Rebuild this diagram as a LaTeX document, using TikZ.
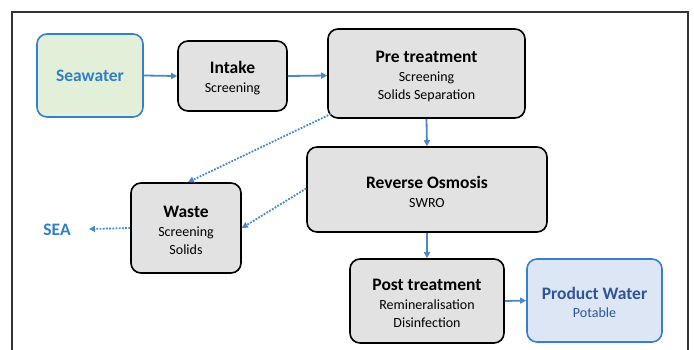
\documentclass[tikz,border=0pt]{standalone}
\usepackage{fontspec}
\setmainfont{Carlito}
\usetikzlibrary{arrows.meta}
\definecolor{boxgray}{HTML}{E2E2E2}
\definecolor{seagreen}{HTML}{E2EFD9}
\definecolor{prodblue}{HTML}{DCE6F4}
\definecolor{lineblue}{HTML}{4A88CC}
\definecolor{edgeblue}{HTML}{3480CC}
\definecolor{txtblue}{HTML}{2F7EC6}
\definecolor{darkblue}{HTML}{2F5597}
\newcommand{\ttlf}{\fontsize{17.5}{19}\selectfont\bfseries\rule{0pt}{17pt}}
\newcommand{\subf}{\fontsize{14}{18}\selectfont}
\tikzset{
  box/.style={draw=black, line width=1.6pt, fill=boxgray, rounded corners=10pt, align=center, inner sep=0pt, font=\subf},
  seabox/.style={box, draw=edgeblue, fill=seagreen},
  prodbox/.style={box, draw=edgeblue, fill=prodblue},
  flow/.style={draw=lineblue, line width=1.8pt, -{Triangle[length=6pt,width=6pt]}},
  waste/.style={draw=lineblue, line width=1.8pt, dash pattern=on 1.8pt off 1.4pt, -{Triangle[length=6pt,width=6pt]}},
}
\begin{document}
\begin{tikzpicture}[x=1pt,y=-1pt]
\useasboundingbox (0,0) rectangle (694,349);
\fill[white] (0,0) rectangle (694,349);
\begin{scope}
\clip (0,0) rectangle (694,349);
\draw[line width=1.5pt, draw=black!80] (12,12) rectangle (688,370);
\end{scope}
% nodes
\node[seabox, minimum width=106pt, minimum height=83pt, text=txtblue] (sw) at (90,75.5) {{\fontsize{17.5}{19}\selectfont\bfseries Seawater}};
\node[box, minimum width=109pt, minimum height=70pt] (in) at (232.5,76) {{\ttlf Intake}\\[1pt]Screening};
\node[box, minimum width=197pt, minimum height=89pt] (pre) at (426.5,73.5) {{\ttlf Pre treatment}\\[1pt]Screening\\Solids Separation};
\node[box, minimum width=240pt, minimum height=85pt] (ro) at (427,189.5) {{\ttlf Reverse Osmosis}\\[1pt]SWRO};
\node[box, minimum width=110pt, minimum height=90pt] (ws) at (186,228) {{\ttlf Waste}\\[1pt]Screening\\Solids};
\node[box, minimum width=154pt, minimum height=84pt] (post) at (427,301) {{\ttlf Post treatment}\\[1pt]Remineralisation\\Disinfection};
\node[prodbox, minimum width=135pt, minimum height=83pt, text=darkblue] (prod) at (594.5,300.5) {{\ttlf Product Water}\\Potable};
\node[text=txtblue, inner sep=0pt, font=\fontsize{17.5}{19}\selectfont\bfseries] (sea) at (57,230) {SEA};
\coordinate (seaend) at (89,229);
% connectors
\draw[flow] (sw.east) -- (in.west);
\draw[flow] (in.east) -- ([yshift=-2pt]pre.west);
\draw[flow] (pre.south) -- (ro.north);
\draw[flow] (ro.south) -- (post.north);
\draw[flow] (post.east) -- (prod.west);
\draw[waste] (pre.south west) ++(4,-5) -- ([xshift=2pt]ws.north);
\draw[waste] ([yshift=1pt]ro.west) -- (ws.east);
\draw[waste] (ws.west) -- (seaend);
\end{tikzpicture}
\end{document}
